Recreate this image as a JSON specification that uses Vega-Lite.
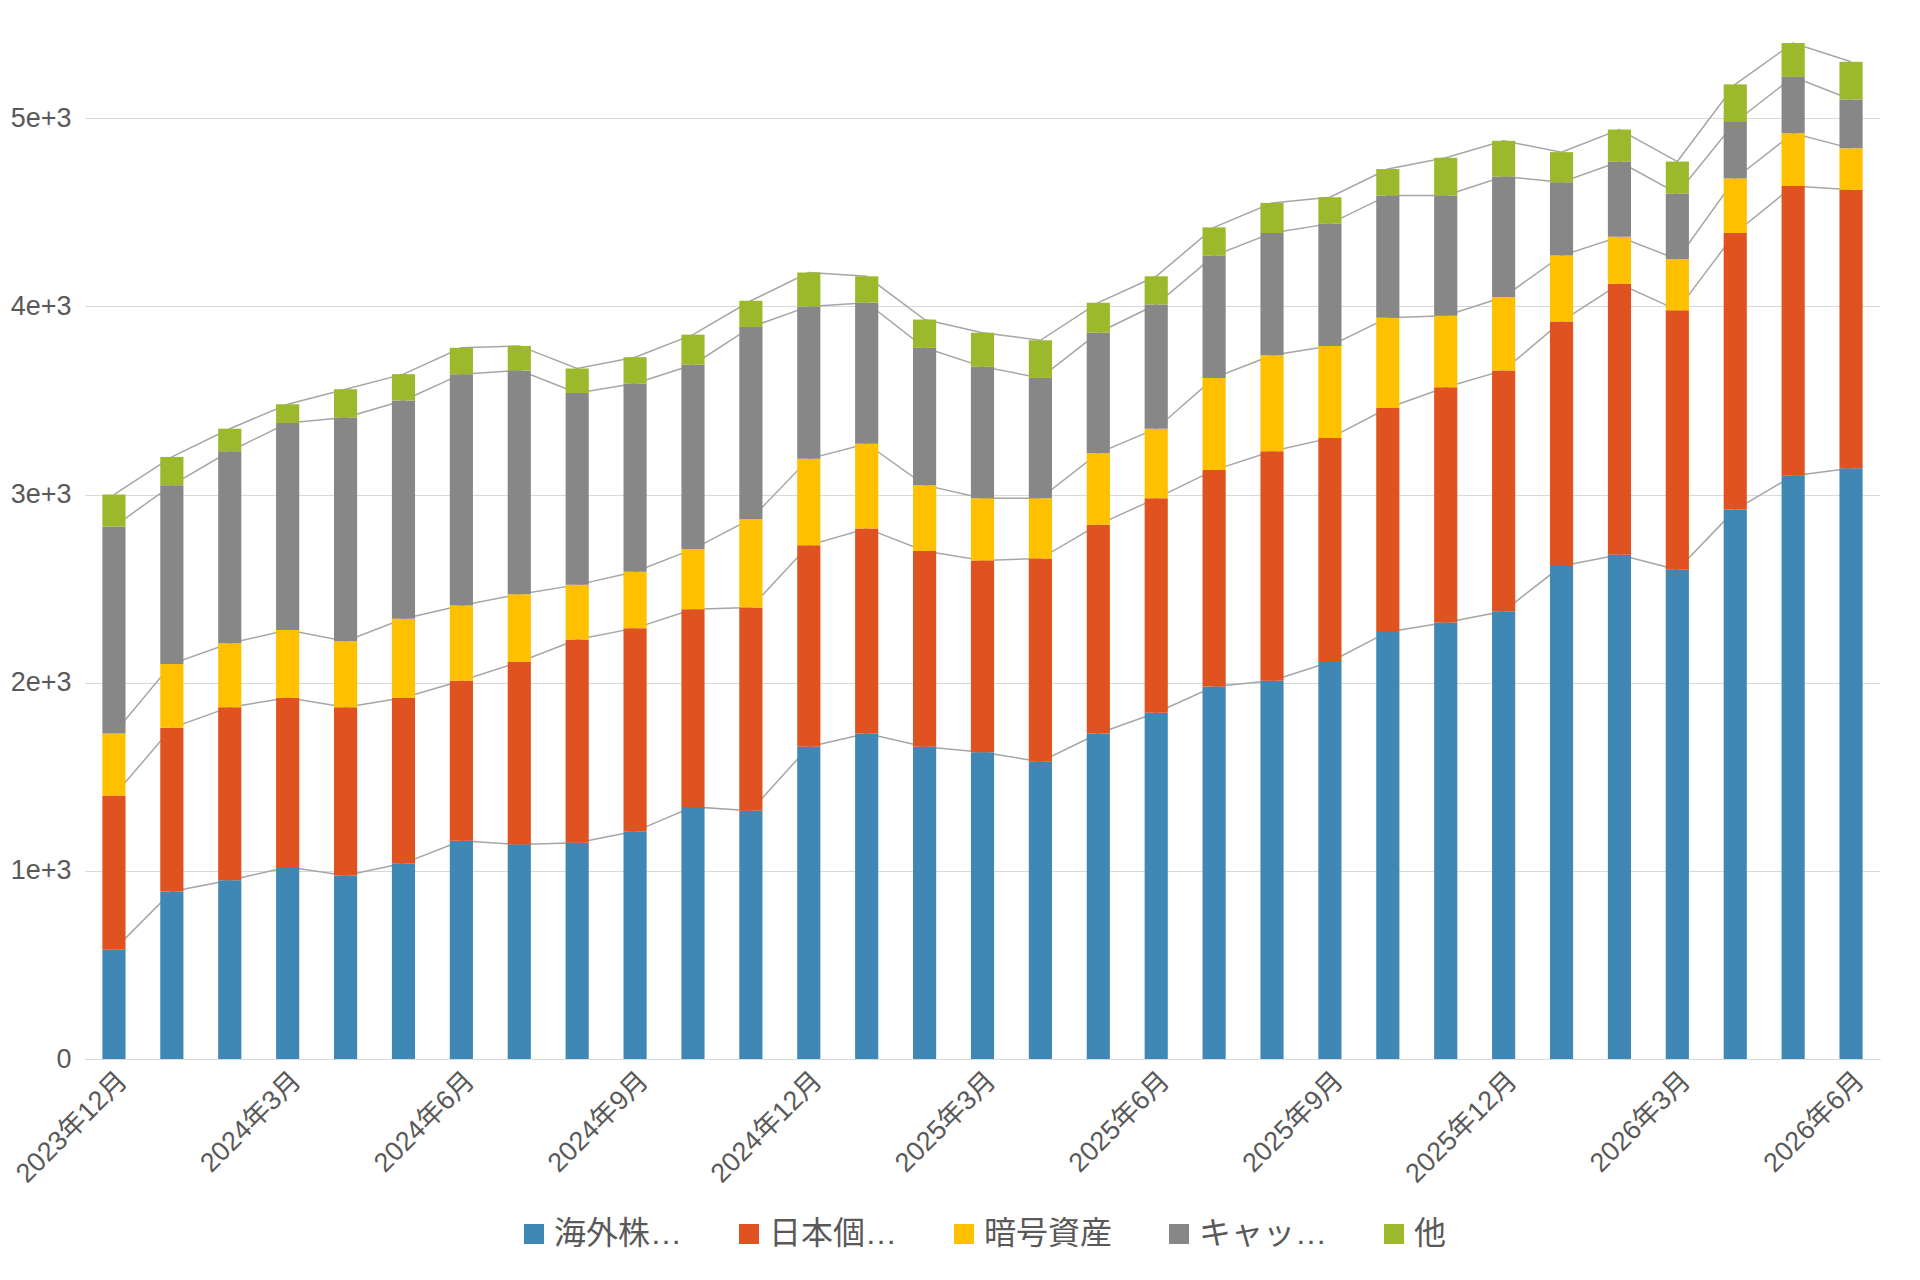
{
  "$schema": "https://vega.github.io/schema/vega-lite/v6.json",
  "width": 1920,
  "height": 1280,
  "autosize": {"type": "fit", "contains": "padding"},
  "padding": {"left": 10, "right": 40, "top": 40, "bottom": 30},
  "config": {"font": "Liberation Sans, Noto Sans CJK JP", "view": {"stroke": null}, "legend": {"layout": {"bottom": {"anchor": "middle"}}}},
  "data": {"values": [
    {"month": "2023年12月", "a": 580, "b": 820, "c": 330, "d": 1100, "e": 170},
    {"month": "2024年1月", "a": 890, "b": 870, "c": 340, "d": 950, "e": 150},
    {"month": "2024年2月", "a": 950, "b": 920, "c": 340, "d": 1020, "e": 120},
    {"month": "2024年3月", "a": 1020, "b": 900, "c": 360, "d": 1100, "e": 100},
    {"month": "2024年4月", "a": 975, "b": 895, "c": 350, "d": 1190, "e": 150},
    {"month": "2024年5月", "a": 1040, "b": 880, "c": 420, "d": 1160, "e": 140},
    {"month": "2024年6月", "a": 1160, "b": 850, "c": 400, "d": 1230, "e": 140},
    {"month": "2024年7月", "a": 1140, "b": 970, "c": 360, "d": 1190, "e": 130},
    {"month": "2024年8月", "a": 1150, "b": 1080, "c": 290, "d": 1020, "e": 130},
    {"month": "2024年9月", "a": 1210, "b": 1080, "c": 300, "d": 1000, "e": 140},
    {"month": "2024年10月", "a": 1340, "b": 1050, "c": 320, "d": 980, "e": 160},
    {"month": "2024年11月", "a": 1320, "b": 1080, "c": 470, "d": 1020, "e": 140},
    {"month": "2024年12月", "a": 1660, "b": 1070, "c": 460, "d": 810, "e": 180},
    {"month": "2025年1月", "a": 1730, "b": 1090, "c": 450, "d": 750, "e": 140},
    {"month": "2025年2月", "a": 1660, "b": 1040, "c": 350, "d": 730, "e": 150},
    {"month": "2025年3月", "a": 1630, "b": 1020, "c": 330, "d": 700, "e": 180},
    {"month": "2025年4月", "a": 1580, "b": 1080, "c": 320, "d": 640, "e": 200},
    {"month": "2025年5月", "a": 1730, "b": 1110, "c": 380, "d": 640, "e": 160},
    {"month": "2025年6月", "a": 1840, "b": 1140, "c": 370, "d": 660, "e": 150},
    {"month": "2025年7月", "a": 1980, "b": 1150, "c": 490, "d": 650, "e": 150},
    {"month": "2025年8月", "a": 2010, "b": 1220, "c": 510, "d": 650, "e": 160},
    {"month": "2025年9月", "a": 2110, "b": 1190, "c": 490, "d": 650, "e": 140},
    {"month": "2025年10月", "a": 2270, "b": 1190, "c": 480, "d": 650, "e": 140},
    {"month": "2025年11月", "a": 2320, "b": 1250, "c": 380, "d": 640, "e": 200},
    {"month": "2025年12月", "a": 2380, "b": 1280, "c": 390, "d": 640, "e": 190},
    {"month": "2026年1月", "a": 2620, "b": 1300, "c": 350, "d": 390, "e": 160},
    {"month": "2026年2月", "a": 2680, "b": 1440, "c": 250, "d": 400, "e": 170},
    {"month": "2026年3月", "a": 2600, "b": 1380, "c": 270, "d": 350, "e": 170},
    {"month": "2026年4月", "a": 2920, "b": 1470, "c": 290, "d": 300, "e": 200},
    {"month": "2026年5月", "a": 3100, "b": 1540, "c": 280, "d": 300, "e": 180},
    {"month": "2026年6月", "a": 3140, "b": 1480, "c": 220, "d": 260, "e": 200}
  ]},
  "transform": [
    {"fold": ["a", "b", "c", "d", "e"], "as": ["k", "value"]},
    {"calculate": "{'a':'海外株投信','b':'日本個別株','c':'暗号資産','d':'キャッシュ','e':'他'}[datum.k]", "as": "category"},
    {"window": [{"op": "sum", "field": "value", "as": "cum"}], "groupby": ["month"], "sort": [{"field": "k"}], "frame": [null, 0]}
  ],
  "encoding": {
    "x": {
      "field": "month", "type": "ordinal", "sort": null, "title": null,
      "scale": {"paddingInner": 0.6, "paddingOuter": 0.3},
      "axis": {
        "labelAngle": -45, "labelFontSize": 27, "labelColor": "#595959",
        "labelExpr": "test(/年(3|6|9|12)月$/, datum.label) ? datum.label : ''",
        "ticks": false, "domainColor": "#d9d9d9", "labelPadding": 8
      }
    }
  },
  "layer": [
    {
      "mark": {"type": "line", "color": "#a6a6a6", "strokeWidth": 1.5},
      "encoding": {
        "y": {
          "field": "cum", "type": "quantitative", "title": null,
          "scale": {"domain": [0, 5400], "nice": false},
          "axis": {"values": [0, 1000, 2000, 3000, 4000, 5000], "format": ",", "labelFontSize": 27, "labelColor": "#595959", "gridColor": "#d9d9d9", "domain": false, "ticks": false, "labelPadding": 14}
        },
        "detail": {"field": "k"}
      }
    },
    {
      "mark": {"type": "bar"},
      "encoding": {
        "y": {
          "field": "value", "type": "quantitative", "stack": "zero", "title": null,
          "scale": {"domain": [0, 5400], "nice": false},
          "axis": {"values": [0, 1000, 2000, 3000, 4000, 5000], "format": ",", "labelFontSize": 27, "labelColor": "#595959", "gridColor": "#d9d9d9", "domain": false, "ticks": false, "labelPadding": 14}
        },
        "order": {"field": "k"},
        "color": {
          "field": "category", "type": "nominal",
          "scale": {"domain": ["海外株投信", "日本個別株", "暗号資産", "キャッシュ", "他"], "range": ["#3F88B5", "#E0521F", "#FFC000", "#878787", "#9CB82B"]},
          "legend": {"orient": "bottom", "direction": "horizontal", "title": null, "labelFontSize": 32, "labelColor": "#595959", "symbolType": "square", "symbolSize": 400, "symbolStrokeWidth": 0, "columnPadding": 50, "offset": 30}
        }
      }
    }
  ]
}
